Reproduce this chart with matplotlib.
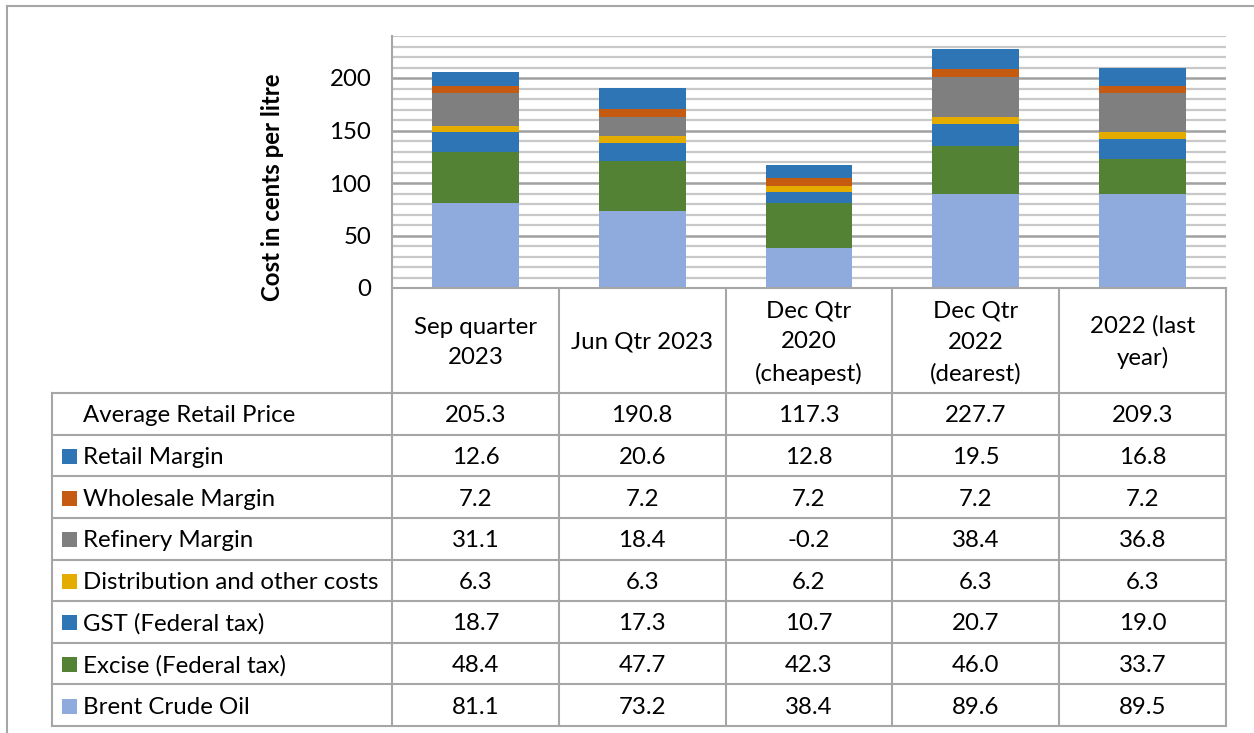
import matplotlib.pyplot as plt
import numpy as np

plt.rcParams['font.family'] = ['Lato', 'DejaVu Sans']

# data
categories = ["Sep quarter\n2023", "Jun Qtr 2023", "Dec Qtr\n2020\n(cheapest)",
              "Dec Qtr\n2022\n(dearest)", "2022 (last\nyear)"]
avg_price = [205.3, 190.8, 117.3, 227.7, 209.3]
retail_margin = [12.6, 20.6, 12.8, 19.5, 16.8]
wholesale_margin = [7.2, 7.2, 7.2, 7.2, 7.2]
refinery_margin = [31.1, 18.4, -0.2, 38.4, 36.8]
distribution = [6.3, 6.3, 6.2, 6.3, 6.3]
gst = [18.7, 17.3, 10.7, 20.7, 19.0]
excise = [48.4, 47.7, 42.3, 46.0, 33.7]
brent = [81.1, 73.2, 38.4, 89.6, 89.5]

# stacking order, bottom to top
series_names = ["Brent Crude Oil", "Excise (Federal tax)", "GST (Federal tax)",
                "Distribution and other costs", "Refinery Margin",
                "Wholesale Margin", "Retail Margin"]
series_vals = [brent, excise, gst, distribution, refinery_margin,
               wholesale_margin, retail_margin]
series_cols = ['#8FAADC', '#548235', '#2E75B6', '#E5AC00', '#7F7F7F',
               '#C55A11', '#2E75B6']

W, H = 1254, 733
fig = plt.figure(figsize=(W / 100, H / 100), dpi=100)
fig.patch.set_facecolor('white')

# pixel layout
px_left, px_right, px_top, px_zero = 392, 1226, 36, 288
tbl_left = 52
row_edges = np.linspace(393, 726, 9)
col_edges = np.linspace(px_left, px_right, 6)
grid_col = '#A6A6A6'
fs = 17.3

ax = fig.add_axes([px_left / W, 1 - px_zero / H, (px_right - px_left) / W,
                   (px_zero - px_top) / H])
x = np.arange(len(categories))
pos_bottom = np.zeros(len(x))
neg_bottom = np.zeros(len(x))
for vals, col in zip(series_vals, series_cols):
    v = np.array(vals)
    bottom = np.where(v >= 0, pos_bottom, neg_bottom)
    ax.bar(x, v, 0.52, bottom=bottom, color=col, zorder=3)
    pos_bottom += np.where(v >= 0, v, 0)
    neg_bottom += np.where(v < 0, v, 0)

ax.set_xlim(-0.5, len(x) - 0.5)
ax.set_ylim(0, 240)
ax.set_yticks(np.arange(0, 201, 50))
ax.set_yticks(np.arange(0, 241, 10), minor=True)
ax.grid(True, which='minor', axis='y', color='#C8C8C8', lw=1.6, zorder=1)
ax.grid(True, which='major', axis='y', color='#A0A0A0', lw=1.8, zorder=2)
ax.set_xticks([])
for s in ['top', 'right', 'bottom']:
    ax.spines[s].set_visible(False)
ax.spines['left'].set_color(grid_col)
ax.spines['left'].set_linewidth(1.5)
ax.tick_params(axis='y', which='both', length=0, pad=15, labelsize=fs)

# overlay for table, labels, border
ov = fig.add_axes([0, 0, 1, 1])
ov.set_xlim(0, W)
ov.set_ylim(H, 0)
ov.axis('off')

lkw = dict(color=grid_col, lw=1.5, solid_capstyle='projecting')
# outer chart border
ov.plot([7, 7], [6, H + 5], **lkw)
ov.plot([7, W + 5], [6, 6], **lkw)

ov.text(273, 187, 'Cost in cents per litre', rotation=90, ha='center', va='center',
        fontsize=fs, fontweight='bold')

# table lines
ov.plot([px_left, px_right], [px_zero, px_zero], **lkw)
for xe in col_edges:
    ov.plot([xe, xe], [px_zero, row_edges[-1]], **lkw)
ov.plot([tbl_left, tbl_left], [row_edges[0], row_edges[-1]], **lkw)
for ye in row_edges:
    ov.plot([tbl_left, px_right], [ye, ye], **lkw)

col_centers = (col_edges[:-1] + col_edges[1:]) / 2
row_centers = (row_edges[:-1] + row_edges[1:]) / 2

# header
for cx, cat in zip(col_centers, categories):
    ov.text(cx, (px_zero + row_edges[0]) / 2 + 2, cat, ha='center', va='center',
            fontsize=fs, linespacing=1.57)

# rows: average price then series top to bottom
row_labels = ["Average Retail Price"] + series_names[::-1]
row_vals = [avg_price] + series_vals[::-1]
row_cols = [None] + series_cols[::-1]
for ry, lab, vals, col in zip(row_centers, row_labels, row_vals, row_cols):
    if col is not None:
        ov.add_patch(plt.Rectangle((62, ry - 6.5), 15, 15, color=col, lw=0))
    ov.text(83, ry + 2, lab, ha='left', va='center', fontsize=fs)
    for cx, v in zip(col_centers, vals):
        ov.text(cx, ry + 2, f"{v:.1f}", ha='center', va='center', fontsize=fs)

fig.savefig('out.png', dpi=100, facecolor='white')
